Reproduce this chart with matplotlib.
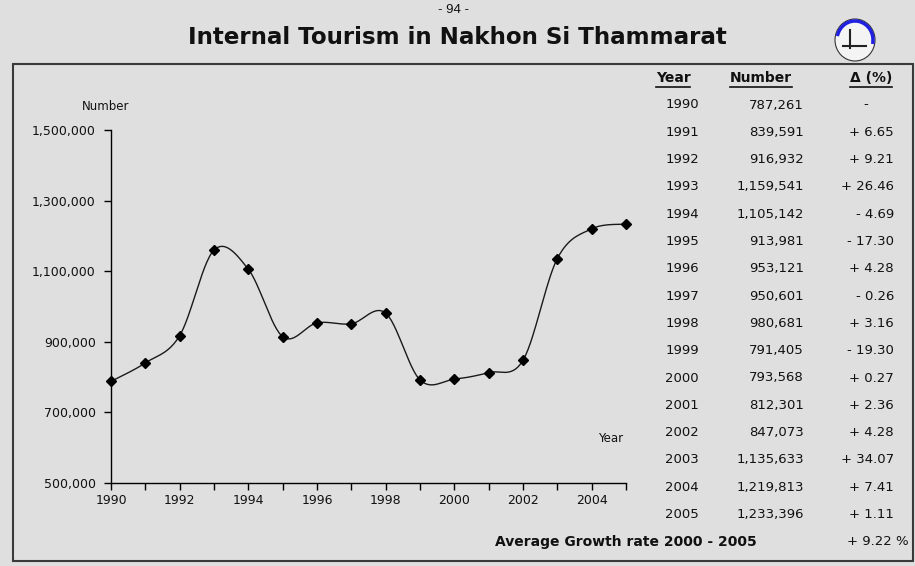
import numpy as np
import matplotlib
matplotlib.use("Agg")
import matplotlib.pyplot as plt
from matplotlib.patches import Rectangle, Ellipse, Arc
from matplotlib.lines import Line2D

years = [1990, 1991, 1992, 1993, 1994, 1995, 1996, 1997, 1998, 1999,
         2000, 2001, 2002, 2003, 2004, 2005]
numbers = [787261, 839591, 916932, 1159541, 1105142, 913981, 953121, 950601,
           980681, 791405, 793568, 812301, 847073, 1135633, 1219813, 1233396]
changes = [None, 6.65, 9.21, 26.46, -4.69, -17.30, 4.28, -0.26, 3.16, -19.30,
           0.27, 2.36, 4.28, 34.07, 7.41, 1.11]
avg_growth_label = "Average Growth rate 2000 - 2005"
avg_growth = 9.22
yticks = [500000, 700000, 900000, 1100000, 1300000, 1500000]
xticks_major = [1990, 1992, 1994, 1996, 1998, 2000, 2002, 2004]

W, H = 915, 566
BG = "#dfdfdf"
fig = plt.figure(figsize=(W / 100, H / 100), dpi=100, facecolor=BG)


def px(x, y):
    return x / W, 1 - y / H


# outer frame
fig.patches.append(Rectangle(px(13, 561), (913 - 13) / W, (561 - 64) / H,
                             transform=fig.transFigure, fill=False,
                             edgecolor="#3a3a3a", linewidth=1.5))

# axes
ax = fig.add_axes([111 / W, 1 - 482.7 / H, (626 - 111) / W, (482.7 - 130) / H])
ax.set_facecolor(BG)
ax.patch.set_alpha(0)


def catmull_rom(xs, ys, n=30):
    xs = np.asarray(xs, float)
    ys = np.asarray(ys, float)
    P = np.column_stack([xs, ys])
    P = np.vstack([P[0], P, P[-1]])
    out = []
    t = np.linspace(0, 1, n)
    for i in range(1, len(P) - 2):
        p0, p1, p2, p3 = P[i - 1], P[i], P[i + 1], P[i + 2]
        c1 = p1 + (p2 - p0) / 6
        c2 = p2 - (p3 - p1) / 6
        seg = ((1 - t) ** 3)[:, None] * p1 + (3 * (1 - t) ** 2 * t)[:, None] * c1 \
            + (3 * (1 - t) * t ** 2)[:, None] * c2 + (t ** 3)[:, None] * p2
        out.append(seg if i == 1 else seg[1:])
    s = np.vstack(out)
    return s[:, 0], s[:, 1]


sx, sy = catmull_rom(years, numbers)
ax.plot(sx, sy, color="#1a1a1a", linewidth=1.0, zorder=2, clip_on=False)
ax.plot(years, numbers, linestyle="none", marker="D", markersize=5,
        color="black", zorder=3, clip_on=False)

ax.set_xlim(1990, 2005)
ax.set_ylim(500000, 1500000)
ax.set_yticks(yticks)
ax.set_yticklabels([f"{v:,}" for v in yticks])
ax.set_xticks(years, minor=False)
ax.set_xticklabels([str(y) if y in xticks_major else "" for y in years])
for s in ["top", "right"]:
    ax.spines[s].set_visible(False)
for s in ["left", "bottom"]:
    ax.spines[s].set_color("black")
    ax.spines[s].set_linewidth(1.0)
ax.tick_params(axis="both", direction="out", length=5, width=1, color="black",
               labelsize=9, labelcolor="#111111")
ax.tick_params(axis="y", pad=6)
ax.tick_params(axis="x", pad=3)

fig.text(*px(106, 106), "Number", ha="center", va="center", fontsize=8.5, color="#111111")
fig.text(*px(623, 438), "Year", ha="right", va="center", fontsize=8.5, color="#111111")

# header
fig.text(*px(453, 10), "- 94 -", ha="center", va="center", fontsize=9.5,
         family=["Liberation Sans Narrow", "Liberation Sans"], color="#111111")
fig.text(*px(457, 38), "Internal Tourism in Nakhon Si Thammarat", ha="center",
         va="center", fontsize=16.6, fontweight="bold",
         family=["DejaVu Sans"], color="#111111")

# logo
lx, ly = px(855, 40)
fig.patches.append(Ellipse((lx, ly), 40 / W, 42 / H, transform=fig.transFigure,
                           facecolor="#f4f4f4", edgecolor="#333333", linewidth=0.8))
fig.patches.append(Arc((lx, ly), 36 / W, 38 / H, theta1=-20, theta2=160,
                       transform=fig.transFigure, edgecolor="#2020e0", linewidth=2.5))
fig.lines.append(Line2D([(843) / W, (866) / W], [1 - 46 / H, 1 - 46 / H],
                        transform=fig.transFigure, color="#222222", linewidth=1.5))
fig.lines.append(Line2D([(850) / W, (850) / W], [1 - 30 / H, 1 - 48 / H],
                        transform=fig.transFigure, color="#222222", linewidth=1.5))

# table
hdr_y = 78
row0 = 105
dy = 27.3
year_x = 682
num_x = 804
chg_x = 894
hdr_kw = dict(fontsize=10, fontweight="bold", va="center", color="#111111")
headers = [
    fig.text(*px(673, hdr_y), "Year", ha="center", **hdr_kw),
    fig.text(*px(792, hdr_y), "Number", ha="right", **hdr_kw),
    fig.text(*px(892, hdr_y), "Δ (%)", ha="right", **hdr_kw),
]
cell_kw = dict(fontsize=9.5, va="center", color="#111111")
for i, (yr, n, c) in enumerate(zip(years, numbers, changes)):
    y = row0 + i * dy
    fig.text(*px(year_x, y), str(yr), ha="center", **cell_kw)
    fig.text(*px(num_x, y), f"{n:,}", ha="right", **cell_kw)
    if c is None:
        fig.text(*px(866, y), "-", ha="center", **cell_kw)
    else:
        sign = "+" if c >= 0 else "-"
        fig.text(*px(chg_x, y), f"{sign} {abs(c):.2f}", ha="right", **cell_kw)

avg_y = row0 + len(years) * dy
fig.text(*px(757, avg_y), avg_growth_label, ha="right", fontsize=10,
         fontweight="bold", va="center", color="#111111")
fig.text(*px(909, avg_y), f"+ {avg_growth:.2f} %", ha="right", **cell_kw)

# underline headers
fig.canvas.draw()
r = fig.canvas.get_renderer()
for t in headers:
    bb = t.get_window_extent(r)
    yl = bb.y0 - 1.5
    fig.lines.append(Line2D([bb.x0 / W, bb.x1 / W], [yl / H, yl / H],
                            transform=fig.transFigure, color="#111111", linewidth=1.2))

fig.savefig("out.png", dpi=100, facecolor=BG)
